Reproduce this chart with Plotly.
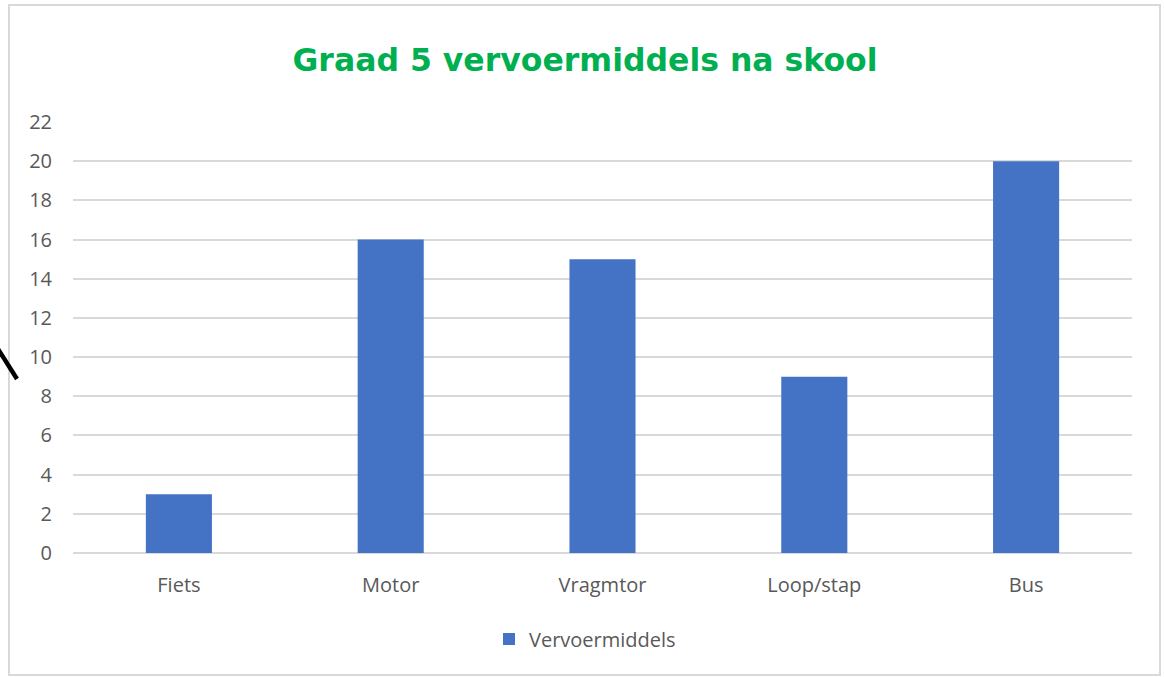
import plotly.graph_objects as go

categories = ["Fiets", "Motor", "Vragmtor", "Loop/stap", "Bus"]
values = [3, 16, 15, 9, 20]
series_name = "Vervoermiddels"
title_text = "Graad 5 vervoermiddels na skool"
y_ticks = list(range(0, 23, 2))

W, H = 1164, 677
L, R, T, B = 73, 1132, 122, 553  # plot area in pixels


def px(x):
    return (x - L) / (R - L)


def py(y):
    return (B - y) / (B - T)


fig = go.Figure()
fig.add_trace(go.Bar(
    x=categories, y=values, name=series_name,
    marker=dict(color="#4472C4", line=dict(width=0)),
    showlegend=True,
))

fig.update_layout(
    width=W, height=H,
    margin=dict(l=L, r=W - R, t=T, b=H - B, pad=0, autoexpand=False),
    paper_bgcolor="white", plot_bgcolor="white",
    bargap=0.688,
    font=dict(family="Open Sans", color="#595959", size=20),
    title=dict(
        text="<b>" + title_text + "</b>",
        font=dict(family="DejaVu Sans", size=31.5, color="#00B050"),
        x=585 / W, xanchor="center", xref="container",
        y=1 - 60 / H, yanchor="middle", yref="container",
    ),
    showlegend=True,
    legend=dict(
        orientation="h", x=px(585), xanchor="center", xref="paper",
        y=py(639), yanchor="middle",
        font=dict(family="Open Sans", size=20, color="#595959"),
        itemwidth=30,
    ),
    xaxis=dict(showgrid=False, showline=False, zeroline=False, ticks="",
               automargin=False, tickangle=0,
               ticklabelstandoff=18, tickfont=dict(size=20)),
    yaxis=dict(range=[0, 22], tickvals=y_ticks, showgrid=True,
               automargin=False,
               gridcolor="#D9D9D9", gridwidth=1.5, zeroline=True,
               zerolinecolor="#D9D9D9", zerolinewidth=1.5, showline=False,
               ticks="", ticklabelstandoff=20, tickfont=dict(size=20)),
    shapes=[
        dict(type="rect", xref="paper", yref="paper",
             x0=px(9), x1=px(1160), y0=py(675), y1=py(5),
             line=dict(color="#D9D9D9", width=2), layer="below"),
        dict(type="line", xref="paper", yref="paper",
             x0=px(-2), y0=py(349), x1=px(17), y1=py(379),
             line=dict(color="black", width=4.5)),
    ],
)

fig.write_html("out.html")
